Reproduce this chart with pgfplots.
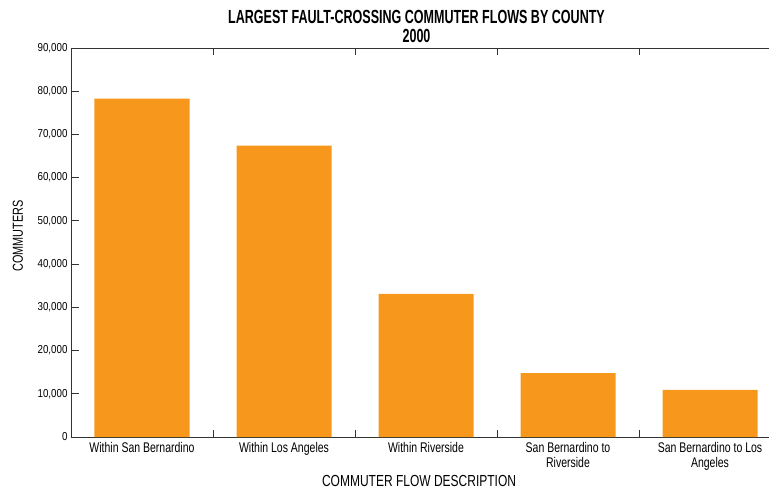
\documentclass[border=0pt]{standalone}
\usepackage{fontspec}
\setmainfont{Liberation Sans}
\newfontfamily\condfont{Liberation Sans}[FakeStretch=0.75]
\newfontfamily\tickfont{Liberation Sans}[FakeStretch=0.85]
\newfontfamily\titlefont{Liberation Sans}[FakeStretch=0.66]
\usepackage{pgfplots}
\pgfplotsset{compat=1.18}
\definecolor{barorange}{HTML}{F7981D}
\definecolor{axisgray}{HTML}{333333}
\begin{document}
\begin{tikzpicture}
\begin{axis}[
  at={(0pt,0pt)}, anchor=south west,
  scale only axis, width=698pt, height=389pt,
  xmin=-0.5, xmax=4.4155, ymin=0, ymax=90000,
  axis x line*=box, axis y line*=left,
  axis line style={axisgray, line width=0.8pt},
  tick style={axisgray, line width=0.8pt},
  tick align=inside,
  xtick={0,1,2,3,4},
  xticklabels={Within San Bernardino, Within Los Angeles, Within Riverside, San Bernardino to\\Riverside, San Bernardino to Los\\Angeles},
  major x tick style={draw=none},
  minor xtick={0.5,1.5,2.5,3.5},
  minor tick length=7pt,
  xticklabel pos=lower,
  x tick label style={font=\condfont\fontsize{14}{15}\selectfont, align=center, yshift=-2pt, text=black},
  ytick={0,10000,...,90000},
  ytick pos=left,
  major tick length=8pt,
  y tick label style={font=\tickfont\fontsize{11.5}{13}\selectfont, text=black},
  /pgf/number format/assume math mode=true,
  /pgf/number format/.cd, 1000 sep={,}, /pgfplots/.cd,
  scaled y ticks=false,
  xlabel={COMMUTER FLOW DESCRIPTION},
  every axis x label/.style={at={(axis description cs:0.4986,-0.113)}, anchor=center, font=\condfont\fontsize{16}{18}\selectfont},
  ylabel={COMMUTERS},
  every axis y label/.style={at={(axis description cs:-0.076,0.517)}, anchor=center, rotate=90, font=\condfont\fontsize{14.5}{18}\selectfont},
  clip=false,
]
\addplot[ybar, bar width=95pt, fill=barorange, draw=none] coordinates {(0,78300) (1,67400) (2,33100) (3,14800) (4,10900)};
\node[font=\titlefont\bfseries\fontsize{19}{22}\selectfont, anchor=center] at (axis description cs:0.495,1.0797) {LARGEST FAULT-CROSSING COMMUTER FLOWS BY COUNTY};
\node[font=\titlefont\bfseries\fontsize{19}{22}\selectfont, anchor=center] at (axis description cs:0.495,1.0308) {2000};
\end{axis}
\pgfresetboundingbox
\useasboundingbox (-71pt,-54pt) rectangle (698pt,437pt);
\end{tikzpicture}
\end{document}
